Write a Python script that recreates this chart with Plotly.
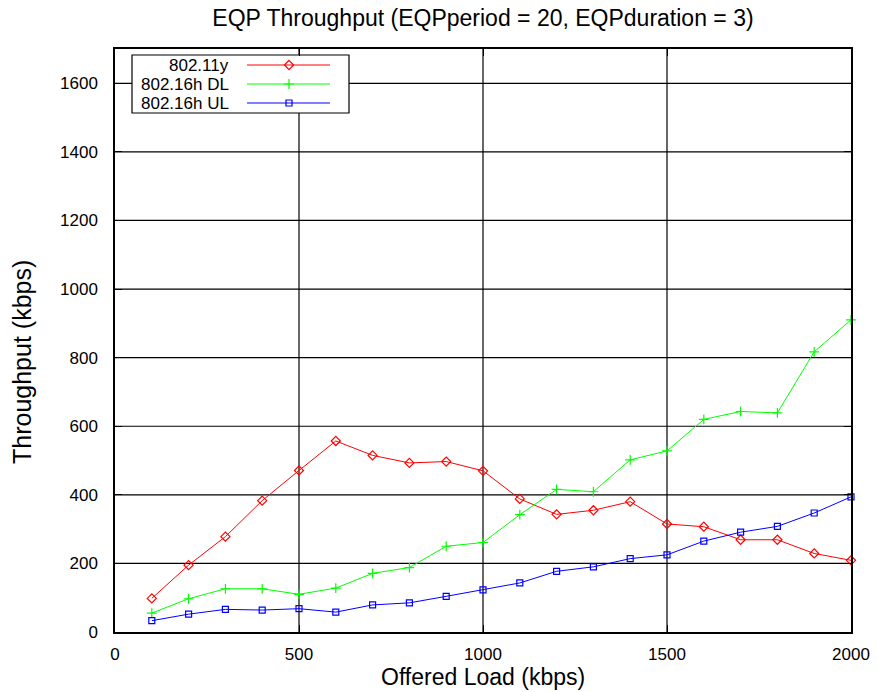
import plotly.graph_objects as go

# Offered load (kbps) and measured throughput (kbps) per technology
offered_load = [100, 200, 300, 400, 500, 600, 700, 800, 900, 1000,
                1100, 1200, 1300, 1400, 1500, 1600, 1700, 1800, 1900, 2000]
thr_80211y = [98, 195, 278, 383, 471, 557, 515, 493, 497, 470,
              388, 343, 355, 380, 315, 307, 269, 269, 229, 209]
thr_80216h_dl = [55, 97, 126, 126, 110, 128, 171, 188, 250, 261,
                 342, 416, 409, 502, 528, 620, 643, 639, 817, 910]
thr_80216h_ul = [33, 52, 66, 64, 68, 58, 79, 85, 104, 123,
                 143, 177, 190, 214, 225, 265, 291, 308, 347, 394]

series_names = ["802.11y", "802.16h DL", "802.16h UL"]
x_ticks = [0, 500, 1000, 1500, 2000]
y_ticks = [0, 200, 400, 600, 800, 1000, 1200, 1400, 1600]
X_RANGE = [0, 2000]
Y_RANGE = [0, 1700]

W, H = 877, 692
ML, MR, MT, MB = 115, 26, 49, 60
FONT = "Liberation Sans, Arial, sans-serif"

styles = [
    dict(color="#ff0000", symbol="diamond-open", size=7),
    dict(color="#00ff00", symbol="cross-thin", size=7),
    dict(color="#0000ff", symbol="square-open", size=6),
]
values = [thr_80211y, thr_80216h_dl, thr_80216h_ul]

fig = go.Figure()
for name, ys, st in zip(series_names, values, styles):
    fig.add_trace(go.Scatter(
        x=offered_load, y=ys, name=name, mode="lines+markers",
        line=dict(color=st["color"], width=1),
        marker=dict(symbol=st["symbol"], size=st["size"], color=st["color"],
                    line=dict(color=st["color"], width=1.2)),
        showlegend=False, cliponaxis=False,
    ))

# Grid lines at the inner ticks, drawn as shapes so the legend box can cover them
shapes = []
for xv in x_ticks[1:-1]:
    shapes.append(dict(type="line", xref="x", yref="y domain", x0=xv, x1=xv, y0=0, y1=1,
                       line=dict(color="black", width=1.2), layer="below"))
for yv in y_ticks[1:]:
    shapes.append(dict(type="line", xref="x domain", yref="y", x0=0, x1=1, y0=yv, y1=yv,
                       line=dict(color="black", width=1.2), layer="below"))

# Legend key placed in the upper-left corner of the plot area (positions as domain fractions)
pw, ph = W - ML - MR, H - MT - MB
def px_x(p):
    return (p - ML) / pw
def px_y(p):
    return 1 - (p - MT) / ph
def to_data_x(f):
    return X_RANGE[0] + f * (X_RANGE[1] - X_RANGE[0])
def to_data_y(f):
    return Y_RANGE[0] + f * (Y_RANGE[1] - Y_RANGE[0])

box = dict(x0=px_x(132), x1=px_x(349), y0=px_y(113), y1=px_y(55))
rows_y = [65, 84, 103]
line_x0, line_x1, mark_x, text_x = px_x(247), px_x(330), px_x(289), px_x(231)

shapes.append(dict(type="rect", xref="x domain", yref="y domain", **box,
                   line=dict(color="black", width=1.2), fillcolor="white", layer="below"))
annotations = []
for name, st, ry in zip(series_names, styles, rows_y):
    yy = px_y(ry)
    fig.add_trace(go.Scatter(
        x=[to_data_x(line_x0), to_data_x(line_x1)], y=[to_data_y(yy)] * 2,
        mode="lines", line=dict(color=st["color"], width=1),
        showlegend=False, hoverinfo="skip"))
    fig.add_trace(go.Scatter(
        x=[to_data_x(mark_x)], y=[to_data_y(yy)], mode="markers",
        marker=dict(symbol=st["symbol"], size=st["size"], color=st["color"],
                    line=dict(color=st["color"], width=1.2)),
        showlegend=False, hoverinfo="skip"))
    annotations.append(dict(x=text_x, y=yy, xref="x domain", yref="y domain", text=name,
                            showarrow=False, xanchor="right", yanchor="middle",
                            font=dict(family=FONT, size=17, color="black")))

# Axis titles
annotations.append(dict(text="Offered Load (kbps)", xref="paper", yref="paper",
                        x=0.5, y=-(677 - (H - MB)) / ph, xanchor="center", yanchor="middle",
                        showarrow=False, font=dict(family=FONT, size=23, color="black")))
annotations.append(dict(text="Throughput (kbps)", xref="paper", yref="paper",
                        x=(22 - ML) / pw, y=1 - (362 - MT) / ph, xanchor="center",
                        yanchor="middle", textangle=-90,
                        showarrow=False, font=dict(family=FONT, size=25, color="black")))

axis_common = dict(
    showline=True, linecolor="black", linewidth=1.5, mirror="allticks",
    ticks="inside", ticklen=7, tickcolor="black", tickwidth=1,
    showgrid=False, zeroline=False, automargin=False,
    tickfont=dict(family=FONT, size=17, color="black"),
)

fig.update_layout(
    width=W, height=H,
    margin=dict(l=ML, r=MR, t=MT, b=MB, autoexpand=False),
    paper_bgcolor="white", plot_bgcolor="white",
    title=dict(text="EQP Throughput (EQPperiod = 20, EQPduration = 3)",
               x=(ML + pw / 2) / W, xanchor="center", y=1 - 18 / H, yanchor="middle",
               font=dict(family=FONT, size=23, color="black")),
    xaxis=dict(range=X_RANGE, tickvals=x_ticks, ticklabelstandoff=6, **axis_common),
    yaxis=dict(range=Y_RANGE, tickvals=y_ticks, ticklabelstandoff=12, **axis_common),
    shapes=shapes, annotations=annotations,
    showlegend=False,
)

fig.write_html("out.html")
